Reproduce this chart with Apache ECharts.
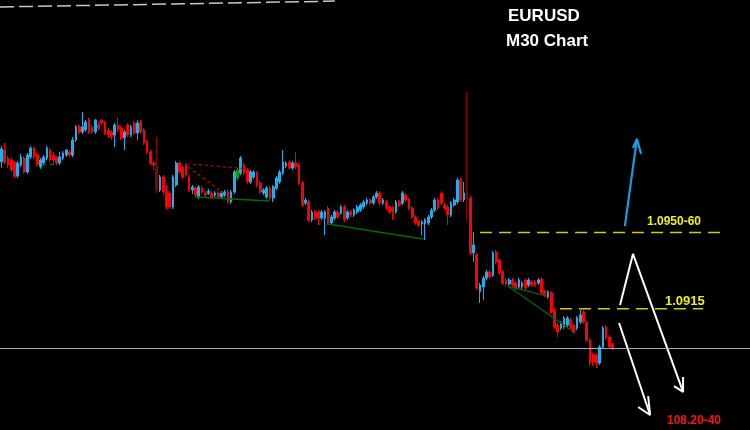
<!DOCTYPE html>
<html><head><meta charset="utf-8">
<script src="https://cdn.jsdelivr.net/npm/echarts@6/dist/echarts.min.js"></script>
<style>html,body{margin:0;padding:0;background:#000;}#c{width:750px;height:430px;}</style>
</head><body><div id="c"></div>
<script>
// EURUSD M30 candles (prices)
const opens = [1.09825,1.09880,1.09843,1.09834,1.09820,1.09760,1.09811,1.09843,1.09779,1.09848,1.09889,1.09857,1.09802,1.09820,1.09843,1.09880,1.09857,1.09843,1.09820,1.09843,1.09857,1.09871,1.09857,1.09926,1.09986,1.09963,1.09972,1.10018,1.09986,1.09963,1.09995,1.10018,1.10004,1.09972,1.09963,1.09949,1.09995,1.09981,1.09935,1.09995,1.09949,1.10004,1.09958,1.10009,1.09972,1.09917,1.09871,1.09820,1.09802,1.09696,1.09756,1.09687,1.09682,1.09618,1.09719,1.09820,1.09797,1.09811,1.09756,1.09696,1.09705,1.09664,1.09705,1.09682,1.09682,1.09682,1.09673,1.09682,1.09664,1.09673,1.09687,1.09641,1.09687,1.09751,1.09774,1.09811,1.09788,1.09733,1.09756,1.09774,1.09728,1.09682,1.09664,1.09705,1.09659,1.09705,1.09733,1.09774,1.09806,1.09825,1.09797,1.09820,1.09811,1.09728,1.09636,1.09641,1.09558,1.09595,1.09595,1.09567,1.09567,1.09613,1.09544,1.09567,1.09595,1.09590,1.09618,1.09567,1.09595,1.09581,1.09595,1.09604,1.09618,1.09636,1.09650,1.09636,1.09664,1.09682,1.09636,1.09641,1.09618,1.09613,1.09595,1.09641,1.09636,1.09673,1.09650,1.09613,1.09572,1.09549,1.09540,1.09540,1.09544,1.09572,1.09604,1.09650,1.09682,1.09627,1.09618,1.09581,1.09627,1.09641,1.09742,1.09650,1.09682,1.09659,1.09406,1.09397,1.09227,1.09250,1.09291,1.09319,1.09305,1.09411,1.09374,1.09319,1.09282,1.09264,1.09282,1.09268,1.09250,1.09250,1.09282,1.09259,1.09273,1.09273,1.09268,1.09287,1.09227,1.09204,1.09222,1.09144,1.09075,1.09061,1.09066,1.09075,1.09098,1.09075,1.09061,1.09089,1.09135,1.09084,1.09006,1.08937,1.08937,1.08900,1.08974,1.09066,1.09020,1.08983];
const closes = [1.09885,1.09825,1.09811,1.09788,1.09760,1.09820,1.09848,1.09779,1.09857,1.09889,1.09848,1.09816,1.09834,1.09848,1.09889,1.09834,1.09834,1.09820,1.09848,1.09866,1.09880,1.09857,1.09926,1.09986,1.09963,1.09986,1.10009,1.09963,1.09963,1.10018,1.09981,1.10004,1.09958,1.09949,1.09940,1.09995,1.09972,1.09935,1.09963,1.09949,1.09986,1.09958,1.10004,1.09963,1.09912,1.09871,1.09820,1.09811,1.09696,1.09756,1.09687,1.09618,1.09618,1.09756,1.09820,1.09779,1.09756,1.09765,1.09696,1.09710,1.09673,1.09710,1.09687,1.09673,1.09691,1.09664,1.09682,1.09664,1.09682,1.09687,1.09641,1.09687,1.09779,1.09788,1.09843,1.09774,1.09733,1.09779,1.09779,1.09719,1.09687,1.09696,1.09705,1.09659,1.09710,1.09751,1.09779,1.09825,1.09820,1.09797,1.09820,1.09802,1.09728,1.09627,1.09650,1.09558,1.09595,1.09567,1.09567,1.09595,1.09595,1.09544,1.09572,1.09595,1.09572,1.09618,1.09558,1.09595,1.09581,1.09604,1.09618,1.09627,1.09641,1.09650,1.09636,1.09664,1.09682,1.09636,1.09650,1.09613,1.09595,1.09595,1.09641,1.09627,1.09682,1.09650,1.09613,1.09572,1.09544,1.09535,1.09549,1.09558,1.09572,1.09604,1.09650,1.09613,1.09636,1.09613,1.09581,1.09636,1.09650,1.09742,1.09650,1.09682,1.09650,1.09406,1.09443,1.09245,1.09259,1.09291,1.09319,1.09296,1.09406,1.09365,1.09314,1.09268,1.09264,1.09282,1.09259,1.09245,1.09282,1.09268,1.09245,1.09282,1.09259,1.09259,1.09282,1.09222,1.09213,1.09227,1.09135,1.09066,1.09043,1.09084,1.09107,1.09107,1.09066,1.09043,1.09107,1.09121,1.09089,1.09006,1.08900,1.08905,1.08900,1.08974,1.09061,1.09015,1.08974,1.08969];
const lows = [1.09797,1.09816,1.09797,1.09779,1.09751,1.09751,1.09802,1.09770,1.09770,1.09839,1.09839,1.09806,1.09793,1.09811,1.09834,1.09825,1.09820,1.09811,1.09811,1.09834,1.09848,1.09848,1.09848,1.09917,1.09954,1.09954,1.09963,1.09954,1.09954,1.09954,1.09972,1.09995,1.09949,1.09935,1.09926,1.09894,1.09963,1.09926,1.09880,1.09940,1.09940,1.09949,1.09926,1.09954,1.09903,1.09862,1.09811,1.09788,1.09682,1.09687,1.09673,1.09604,1.09609,1.09609,1.09710,1.09770,1.09747,1.09756,1.09687,1.09678,1.09664,1.09655,1.09678,1.09664,1.09673,1.09655,1.09664,1.09655,1.09655,1.09664,1.09632,1.09632,1.09678,1.09742,1.09765,1.09765,1.09724,1.09724,1.09747,1.09710,1.09678,1.09673,1.09655,1.09650,1.09641,1.09696,1.09724,1.09765,1.09797,1.09788,1.09788,1.09793,1.09719,1.09618,1.09627,1.09549,1.09549,1.09558,1.09535,1.09558,1.09489,1.09535,1.09535,1.09558,1.09563,1.09581,1.09549,1.09558,1.09572,1.09572,1.09586,1.09595,1.09609,1.09627,1.09627,1.09627,1.09655,1.09627,1.09627,1.09604,1.09586,1.09558,1.09586,1.09618,1.09627,1.09641,1.09604,1.09563,1.09535,1.09526,1.09489,1.09466,1.09535,1.09563,1.09595,1.09604,1.09627,1.09604,1.09535,1.09572,1.09618,1.09632,1.09641,1.09641,1.09558,1.09397,1.09365,1.09236,1.09176,1.09190,1.09282,1.09287,1.09296,1.09356,1.09305,1.09259,1.09254,1.09254,1.09250,1.09236,1.09241,1.09241,1.09236,1.09250,1.09250,1.09250,1.09259,1.09213,1.09204,1.09195,1.09126,1.09057,1.09020,1.09052,1.09057,1.09066,1.09057,1.09034,1.09052,1.09080,1.09080,1.08997,1.08886,1.08886,1.08877,1.08891,1.08965,1.09006,1.08965,1.08960];
const highs = [1.09898,1.09912,1.09852,1.09843,1.09829,1.09829,1.09862,1.09852,1.09866,1.09898,1.09894,1.09866,1.09843,1.09857,1.09898,1.09889,1.09871,1.09852,1.09871,1.09875,1.09885,1.09880,1.09940,1.09995,1.09995,1.10055,1.10018,1.10027,1.09995,1.10023,1.10009,1.10023,1.10013,1.09981,1.09972,1.10004,1.10032,1.09990,1.09972,1.10004,1.09995,1.10013,1.10018,1.10018,1.09981,1.09926,1.09880,1.09829,1.09940,1.09765,1.09765,1.09719,1.09691,1.09765,1.09829,1.09829,1.09806,1.09820,1.09765,1.09719,1.09714,1.09719,1.09714,1.09691,1.09701,1.09691,1.09691,1.09691,1.09691,1.09696,1.09696,1.09696,1.09788,1.09797,1.09852,1.09820,1.09797,1.09788,1.09788,1.09783,1.09737,1.09705,1.09714,1.09714,1.09719,1.09760,1.09788,1.09880,1.09829,1.09834,1.09829,1.09871,1.09820,1.09737,1.09659,1.09650,1.09604,1.09604,1.09604,1.09604,1.09604,1.09622,1.09581,1.09604,1.09604,1.09627,1.09627,1.09604,1.09604,1.09613,1.09627,1.09636,1.09650,1.09659,1.09659,1.09673,1.09691,1.09691,1.09659,1.09650,1.09627,1.09622,1.09650,1.09650,1.09691,1.09682,1.09659,1.09622,1.09581,1.09558,1.09558,1.09567,1.09581,1.09613,1.09659,1.09659,1.09691,1.09636,1.09627,1.09645,1.09659,1.09751,1.09751,1.09733,1.10147,1.09668,1.09503,1.09406,1.09268,1.09300,1.09328,1.09328,1.09415,1.09420,1.09383,1.09328,1.09291,1.09291,1.09291,1.09277,1.09291,1.09277,1.09291,1.09291,1.09282,1.09282,1.09291,1.09296,1.09236,1.09236,1.09231,1.09153,1.09084,1.09093,1.09116,1.09116,1.09107,1.09084,1.09116,1.09144,1.09144,1.09093,1.09015,1.08946,1.08946,1.08983,1.09070,1.09075,1.09029,1.08992];
const darkBars = [48, 144];
const greenBars = [73];

// Chart frame: number of bar slots across the window, and visible price range
const slotCount = 232;
const priceMin = 1.08592;
const priceMax = 1.10570;

// Drawn objects, as [bar index, price]
const grayTrend = [[-0.5, 1.10538], [103.1, 1.10565]];
const redDotA = [[57.3, 1.09816], [76.8, 1.09793]];
const redDotB = [[57.7, 1.09802], [68.5, 1.09682]];
const greenDash = [[12.5, 1.09811], [17.4, 1.09816]];
const greenA = [[59.8, 1.09664], [83.0, 1.09645]];
const greenB = [[101.0, 1.09540], [130.3, 1.09471]];
const greenC = [[156.6, 1.09254], [168.7, 1.09208]];
const greenD = [[156.6, 1.09254], [177.4, 1.09038]];
const levelHigh = [[148.0, 1.0950], [222.8, 1.0950]];
const levelMid = [[172.7, 1.0915], [217.0, 1.0915]];
const blueShaft = [[192.8, 1.09530], [196.5, 1.09931]];
const blueHead = [[195.3, 1.09889], [196.5, 1.09931], [197.8, 1.09862]];
const whiteShaftA = [[191.3, 1.09167], [195.3, 1.09402], [210.8, 1.08767]];
const whiteHeadA = [[210.8, 1.08836], [210.8, 1.08767], [208.0, 1.08794]];
const whiteShaftB = [[191.0, 1.09084], [200.6, 1.08661]];
const whiteHeadB = [[196.9, 1.08698], [200.6, 1.08661], [200.0, 1.08748]];

const labels = [
  {text: 'EURUSD', left: 508, top: 8, size: 17, color: '#ffffff'},
  {text: 'M30 Chart', left: 506, top: 33, size: 17, color: '#ffffff'},
  {text: '1.0950-60', left: 647, top: 216, size: 12, color: '#eeee20'},
  {text: '1.0915', left: 665, top: 295, size: 13, color: '#eeee20'},
  {text: '108.20-40', left: 667, top: 415, size: 12, color: '#ff1010'}
];

const categories = Array.from({length: slotCount}, (_, i) => String(i + 1));
const candleData = opens.map((o, i) => {
  const item = {value: [o, closes[i], lows[i], highs[i]]};
  if (darkBars.includes(i)) item.itemStyle = {color0: '#8b0000', borderColor0: '#8b0000', color: '#8b0000', borderColor: '#8b0000'};
  if (greenBars.includes(i)) item.itemStyle = {color: '#00a000', borderColor: '#00a000'};
  return item;
});
const lastClose = closes[closes.length - 1];

function seg(pts, color, width, type, z) {
  return {type: 'line', xAxisIndex: 1, yAxisIndex: 0, data: pts, symbol: 'none', silent: true,
    lineStyle: {color: color, width: width, type: type}, z: z || 3, animation: false};
}

const chart = echarts.init(document.getElementById('c'), null, {renderer: 'canvas'});
chart.setOption({
  backgroundColor: '#000000',
  animation: false,
  grid: {left: 0, right: 0, top: 0, bottom: 0},
  xAxis: [
    {type: 'category', data: categories, show: false, boundaryGap: true},
    {type: 'value', min: -0.5, max: slotCount - 0.5, show: false}
  ],
  yAxis: {type: 'value', min: priceMin, max: priceMax, show: false, splitLine: {show: false}},
  series: [
    {
      type: 'candlestick', data: candleData, barWidth: 2.2,
      itemStyle: {color: '#1ab0f0', color0: '#ff0000', borderColor: '#1ab0f0', borderColor0: '#ff0000', borderWidth: 1},
      markLine: {silent: true, symbol: 'none', precision: 5, label: {show: false},
        lineStyle: {color: '#9aabbd', width: 1, type: 'solid'},
        data: [{yAxis: lastClose}]},
      z: 2
    },
    seg(grayTrend, '#c8c8c8', 1.5, [14, 5]),
    seg(redDotA, '#b00000', 1.5, [3, 3]),
    seg(redDotB, '#b00000', 1.5, [3, 3]),
    seg(greenDash, '#007000', 1.5, [4, 4]),
    seg(greenA, '#006a00', 1.5, 'solid'),
    seg(greenB, '#006a00', 1.5, 'solid'),
    seg(greenC, '#006a00', 1.2, 'solid'),
    seg(greenD, '#006a00', 1.2, 'solid'),
    seg(levelHigh, '#cccc10', 1.5, [12, 7]),
    seg(levelMid, '#cccc10', 1.5, [12, 7]),
    seg(blueShaft, '#1a9be0', 2.2, 'solid', 4),
    seg(blueHead, '#1a9be0', 2.2, 'solid', 4),
    seg(whiteShaftA, '#ffffff', 2, 'solid', 4),
    seg(whiteHeadA, '#ffffff', 2, 'solid', 4),
    seg(whiteShaftB, '#ffffff', 2, 'solid', 4),
    seg(whiteHeadB, '#ffffff', 2, 'solid', 4)
  ],
  graphic: labels.map(l => ({
    type: 'text', left: l.left, top: l.top, silent: true, z: 10,
    style: {text: l.text, fill: l.color, font: 'bold ' + l.size + 'px "Liberation Sans", Arial, sans-serif'}
  }))
});
</script></body></html>
